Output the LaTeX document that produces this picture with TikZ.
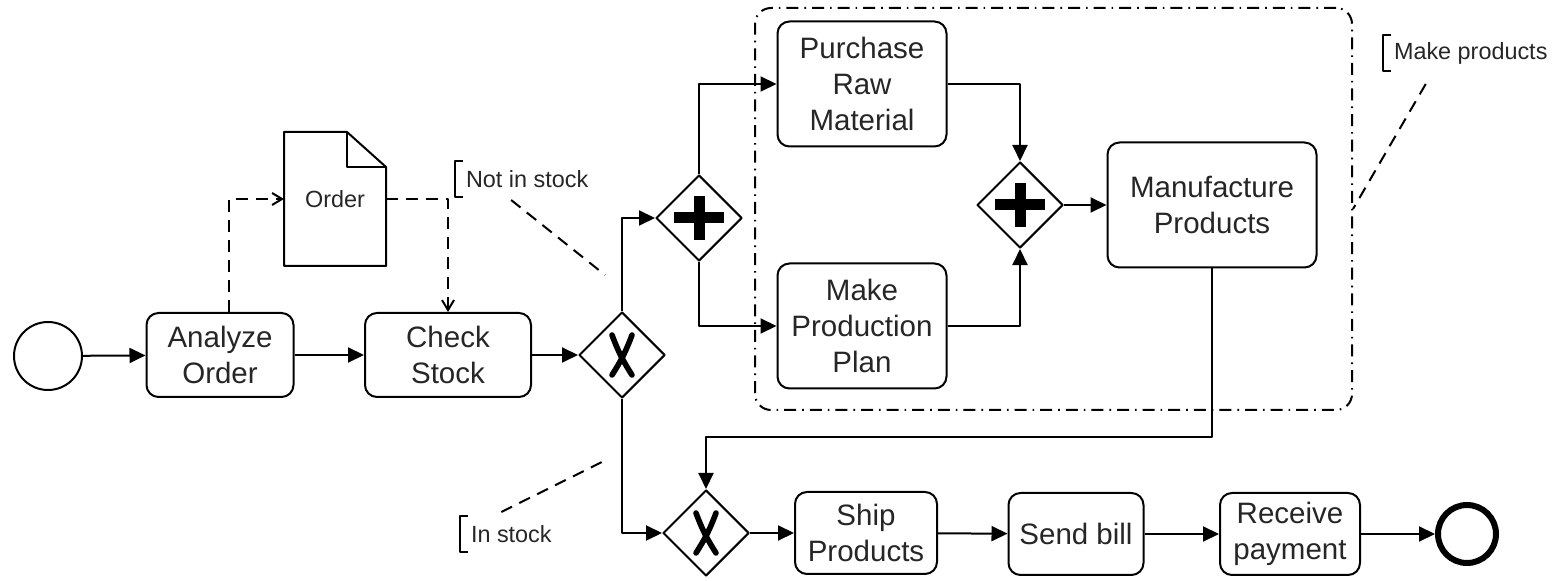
\documentclass[tikz,border=0pt]{standalone}
\usepackage{fontspec}
\setmainfont{Liberation Sans}
\usetikzlibrary{arrows.meta,shapes.geometric}

\begin{document}
\begin{tikzpicture}[line join=bevel,line width=1bp,
	seq/.style={-{Triangle[length=8bp,width=7.5bp]}},
	task/.style={draw,rounded corners=6bp,align=center,inner sep=0pt,text=black!85,font=\fontsize{14.75bp}{18bp}\selectfont},
	gate/.style={draw,diamond,minimum width=43bp,minimum height=43bp,inner sep=0pt},
	andgate/.style={gate,path picture={
		\fill (path picture bounding box.center) ++(-12.5bp,-2.75bp) rectangle ++(25bp,5.5bp);
		\fill (path picture bounding box.center) ++(-2.75bp,-11bp) rectangle ++(5.5bp,22bp);}},
	xorgate/.style={gate,path picture={
		\draw[line width=2.8bp,line cap=round] (path picture bounding box.center) ++(-5bp,-10bp) to[bend right=6] ++(10bp,20bp);
		\draw[line width=2.8bp,line cap=round] (path picture bounding box.center) ++(5bp,-10bp) to[bend left=6] ++(-10bp,20bp);}},
	note/.style={text=black!85,font=\fontsize{11.7bp}{14bp}\selectfont},
	bracketnote/.style={note,anchor=west,inner xsep=5bp,inner ysep=0pt,minimum height=17bp},
	assoc/.style={dash pattern=on 6bp off 4bp}]
	\useasboundingbox (0bp,0bp) rectangle (778bp,290.5bp);
		\node (start) at (24bp,112.5bp) [draw,circle,minimum size=34bp,inner sep=0pt] {};
		  \node (ao) at (110bp,113bp) [task,minimum width=73.5bp,minimum height=42bp] {Analyze\\Order};
		  \node (cs) at (224bp,113bp) [task,minimum width=83bp,minimum height=42bp] {Check\\Stock};
		  \node (xor1) at (311bp,113bp) [xorgate] {};
		  \node (order) at (167.5bp,191bp) [note,minimum width=50bp,minimum height=66bp] {Order};
		  \node (and1) at (349.5bp,181.5bp) [andgate] {};
		  \node (prm) at (431bp,248.5bp) [task,minimum width=84.5bp,minimum height=62.5bp] {Purchase\\Raw\\Material};
		  \node (mpp) at (431bp,127.5bp) [task,minimum width=84.5bp,minimum height=62.5bp] {Make\\Production\\Plan};
		  \node (and2) at (510bp,188bp) [andgate] {};
		  \node (mfp) at (606bp,188bp) [task,minimum width=104.5bp,minimum height=62.5bp] {Manufacture\\Products};
		  \node (grp) at (526.75bp,186bp) [draw,rounded corners=8bp,minimum width=298.5bp,minimum height=201bp,dash pattern=on 6bp off 3bp on 0.8bp off 3bp] {};
		  \node (xor2) at (353bp,24bp) [xorgate] {};
		  \node (ship) at (433bp,24bp) [task,minimum width=71bp,minimum height=41bp] {Ship\\Products};
		  \node (bill) at (538bp,23.5bp) [task,minimum width=67.5bp,minimum height=41bp] {Send bill};
		  \node (pay) at (645bp,23.5bp) [task,minimum width=70bp,minimum height=41bp] {Receive\\payment};
		  \node (end) at (733.5bp,23.5bp) [draw,circle,line width=3bp,minimum size=29bp,inner sep=0pt] {};
		  \node (notin) at (227.5bp,201bp) [bracketnote] {Not in stock};
		  \node (mkp) at (691.5bp,264bp) [bracketnote] {Make products};
		  \node (instk) at (230bp,23.5bp) [bracketnote] {In stock};
		  \coordinate (nispt) at (302.5bp,153bp);
		  \coordinate (ispt) at (304bp,61bp);
		  \coordinate (mfpturn) at (606bp,72bp);
		  % data object
		  \draw (order.south west) -- (order.north west) -- ([xshift=-19.5bp]order.north east) -- ([yshift=-17.5bp]order.north east) -- (order.south east) -- cycle;
		  \draw ([xshift=-19.5bp]order.north east) |- ([yshift=-17.5bp]order.north east);
		  % brackets of the annotations
		  \draw ([xshift=4bp]notin.north west) -- (notin.north west) -- (notin.south west) -- ([xshift=4bp]notin.south west);
		  \draw ([xshift=4bp]mkp.north west) -- (mkp.north west) -- (mkp.south west) -- ([xshift=4bp]mkp.south west);
		  \draw ([xshift=4bp]instk.north west) -- (instk.north west) -- (instk.south west) -- ([xshift=4bp]instk.south west);
		  \draw [assoc] ([xshift=-8bp,yshift=-1.5bp]notin.south) -- (nispt);
		  \draw [assoc] ([xshift=-22.5bp,yshift=-6.5bp]mkp.south) -- (grp.east);
		  \draw [assoc] ([xshift=-5bp,yshift=2bp]instk.north) -- (ispt);
		  % sequence flow
		  \draw [seq] (start) -- (ao);
		  \draw [seq] (ao) -- (cs);
		  \draw [seq] (cs) -- (xor1);
		  \draw [seq] (xor1) |- (and1);
		  \draw [seq] (and1) |- (prm);
		  \draw [seq] (and1) |- (mpp);
		  \draw [seq] (prm) -| (and2);
		  \draw [seq] (mpp) -| (and2);
		  \draw [seq] (and2) -- (mfp);
		  \draw [seq] (mfp) -- (mfpturn) -| (xor2);
		  \draw [seq] (xor1) |- (xor2);
		  \draw [seq] (xor2) -- (ship);
		  \draw [seq] (ship) -- (bill);
		  \draw [seq] (bill) -- (pay);
		  \draw [seq] (pay) -- (end);
		  % data associations
		  \draw [assoc,-{Straight Barb[length=5bp,width=6bp]}] ([xshift=4.5bp]ao.north) |- (order.west);
		  \draw [assoc,-{Straight Barb[length=5bp,width=6bp]}] (order.east) -| (cs.north);
		
	\end{tikzpicture}
\end{document}
